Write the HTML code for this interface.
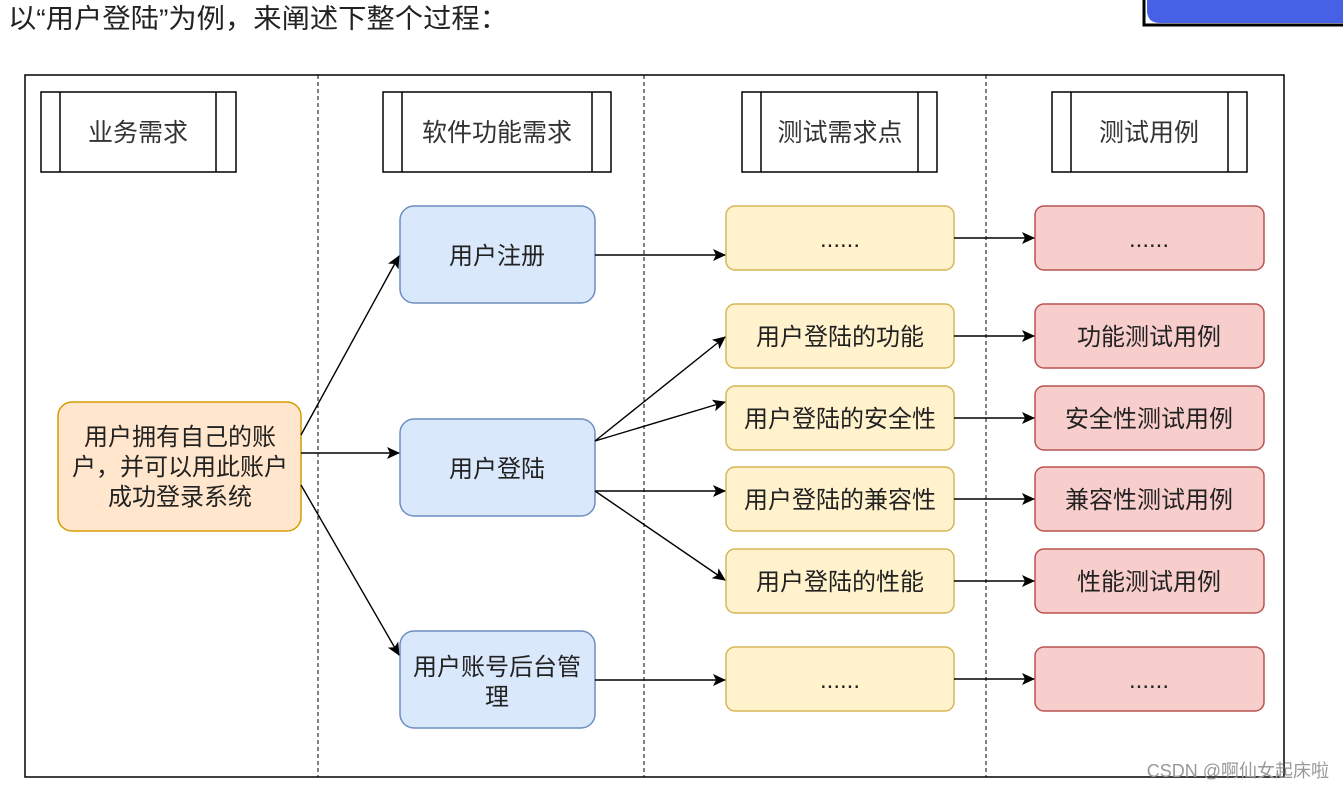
<!DOCTYPE html>
<html><head><meta charset="utf-8"><style>
body{margin:0;background:#fff;width:1343px;height:789px;overflow:hidden;font-family:"Liberation Sans","Noto Sans CJK SC",sans-serif}
</style></head><body>
<svg width="1343" height="789" xmlns="http://www.w3.org/2000/svg" font-family="Liberation Sans, Noto Sans CJK SC, sans-serif">
<defs><marker id="a" markerWidth="13" markerHeight="12" refX="12" refY="6" orient="auto" markerUnits="userSpaceOnUse"><path d="M0,0 L13,6 L0,12 L3,6 z" fill="#000"/></marker></defs>
<text x="8" y="28" font-size="27" fill="#222" textLength="500" lengthAdjust="spacingAndGlyphs">以“用户登陆”为例，来阐述下整个过程：</text>
<rect x="1144" y="-10" width="210" height="35" fill="#fff" stroke="#000" stroke-width="3"/>
<path d="M1147,-5 H1343 V23 H1160 Q1147,23 1147,10 Z" fill="#4660e6"/>
<rect x="25" y="75" width="1259" height="702" fill="none" stroke="#000" stroke-width="1.5"/>
<g stroke="#000" stroke-dasharray="4,3"><line x1="318" y1="75" x2="318" y2="777"/><line x1="644" y1="75" x2="644" y2="777"/><line x1="986" y1="75" x2="986" y2="777"/></g>
<g fill="#fff" stroke="#000" stroke-width="1.5">
<rect x="41" y="92" width="195" height="80"/><line x1="60" y1="92" x2="60" y2="172"/><line x1="216" y1="92" x2="216" y2="172"/>
<rect x="383" y="92" width="228" height="80"/><line x1="402" y1="92" x2="402" y2="172"/><line x1="592" y1="92" x2="592" y2="172"/>
<rect x="742" y="92" width="195" height="80"/><line x1="761" y1="92" x2="761" y2="172"/><line x1="918" y1="92" x2="918" y2="172"/>
<rect x="1052" y="92" width="195" height="80"/><line x1="1071" y1="92" x2="1071" y2="172"/><line x1="1228" y1="92" x2="1228" y2="172"/>
</g>
<g font-size="25" fill="#333" text-anchor="middle">
<text x="138" y="141">业务需求</text><text x="497" y="141">软件功能需求</text><text x="840" y="141">测试需求点</text><text x="1149" y="141">测试用例</text>
</g>
<rect x="58" y="402" width="243" height="129" rx="14" fill="#ffe6cc" stroke="#d79b00" stroke-width="1.5"/>
<g fill="#dae8fc" stroke="#6c8ebf" stroke-width="1.5">
<rect x="400" y="206" width="195" height="97" rx="14"/><rect x="400" y="419" width="195" height="97" rx="14"/><rect x="400" y="631" width="195" height="97" rx="14"/>
</g>
<g fill="#fff2cc" stroke="#d6b656" stroke-width="1.5">
<rect x="726" y="206" width="228" height="64" rx="9"/><rect x="726" y="304" width="228" height="64" rx="9"/><rect x="726" y="386" width="228" height="64" rx="9"/><rect x="726" y="467" width="228" height="64" rx="9"/><rect x="726" y="549" width="228" height="64" rx="9"/><rect x="726" y="647" width="228" height="64" rx="9"/>
</g>
<g fill="#f8cecc" stroke="#b85450" stroke-width="1.5">
<rect x="1035" y="206" width="229" height="64" rx="9"/><rect x="1035" y="304" width="229" height="64" rx="9"/><rect x="1035" y="386" width="229" height="64" rx="9"/><rect x="1035" y="467" width="229" height="64" rx="9"/><rect x="1035" y="549" width="229" height="64" rx="9"/><rect x="1035" y="647" width="229" height="64" rx="9"/>
</g>
<g stroke="#000" stroke-width="1.4" marker-end="url(#a)" fill="none">
<line x1="301" y1="435" x2="399" y2="256"/><line x1="301" y1="453" x2="399" y2="453"/><line x1="301" y1="485" x2="399" y2="655"/>
<line x1="595" y1="255" x2="725" y2="255"/>
<line x1="595" y1="441" x2="725" y2="337"/><line x1="595" y1="441" x2="725" y2="402"/>
<line x1="595" y1="491" x2="725" y2="491"/><line x1="595" y1="491" x2="725" y2="580"/>
<line x1="595" y1="680" x2="725" y2="680"/>
<line x1="954" y1="238" x2="1034" y2="238"/><line x1="954" y1="336" x2="1034" y2="336"/><line x1="954" y1="418" x2="1034" y2="418"/><line x1="954" y1="499" x2="1034" y2="499"/><line x1="954" y1="581" x2="1034" y2="581"/><line x1="954" y1="679" x2="1034" y2="679"/>
</g>
<g font-size="24" fill="#222" text-anchor="middle">
<text x="180" y="445">用户拥有自己的账</text><text x="180" y="475">户，并可以用此账户</text><text x="180" y="505">成功登录系统</text>
<text x="497" y="264">用户注册</text><text x="497" y="477">用户登陆</text>
<text x="497" y="675">用户账号后台管</text><text x="497" y="705">理</text>
<text x="840" y="247">......</text><text x="840" y="345">用户登陆的功能</text><text x="840" y="427">用户登陆的安全性</text><text x="840" y="508">用户登陆的兼容性</text><text x="840" y="590">用户登陆的性能</text><text x="840" y="688">......</text>
<text x="1149" y="247">......</text><text x="1149" y="345">功能测试用例</text><text x="1149" y="427">安全性测试用例</text><text x="1149" y="508">兼容性测试用例</text><text x="1149" y="590">性能测试用例</text><text x="1149" y="688">......</text>
</g>
<text x="1329" y="777" font-size="18" fill="#999" text-anchor="end">CSDN @啊仙女起床啦</text>
</svg>
</body></html>
